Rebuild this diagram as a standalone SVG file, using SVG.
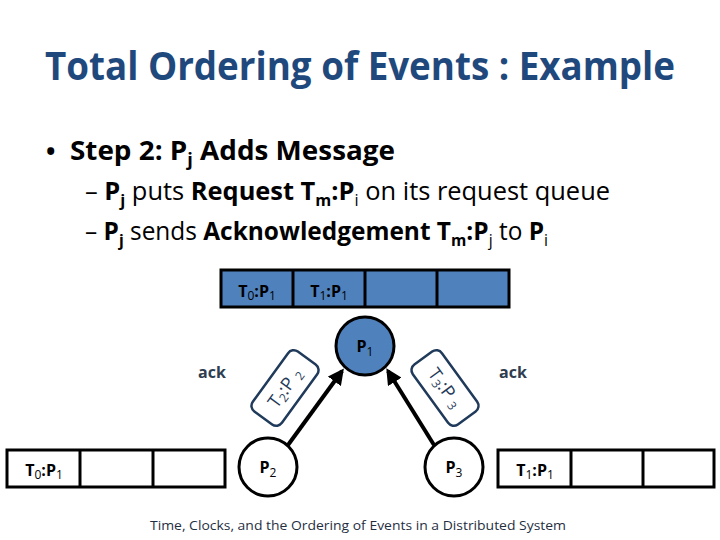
<svg xmlns="http://www.w3.org/2000/svg" width="720" height="540" viewBox="0 0 720 540">
<defs>
<style>
.t{font-family:"Open Sans","Liberation Sans",sans-serif}
.title{font-size:40px;font-weight:bold;fill:#1F497D}
.b{font-size:25px;fill:#000}
.bold{font-weight:bold}
.lbl{font-size:16px;font-weight:bold;fill:#000}
.sub{font-size:12px;font-weight:normal}
.q{stroke:#000;stroke-width:3}
.blue{fill:#4F81BD}
.msg{fill:none;stroke:#1F3A5A;stroke-width:2.5}
.mt{font-size:18px;fill:#1F3A5A}
.ack{font-size:16px;font-weight:bold;fill:#2E3D4F}
.foot{font-size:13px;fill:#1F2F3F}
</style>
<marker id="ah" viewBox="0 0 10 10" refX="8" refY="5" markerWidth="4" markerHeight="4" orient="auto" markerUnits="strokeWidth">
<path d="M0,0 L10,5 L0,10 z" fill="#000"/>
</marker>
</defs>
<rect width="720" height="540" fill="#fff"/>

<g id="title"><text class="t title" x="45" y="80" textLength="630" lengthAdjust="spacingAndGlyphs">Total Ordering of Events : Example</text></g>

<g id="bullets" class="t b">
<text x="46" y="160" class="bold">•</text>
<text x="70" y="160" class="bold" font-size="26" textLength="325" lengthAdjust="spacingAndGlyphs">Step 2:  P<tspan dy="6" font-size="17">j</tspan><tspan dy="-6"> Adds Message</tspan></text>
<text x="85" y="200" textLength="525" lengthAdjust="spacingAndGlyphs">– <tspan class="bold">P</tspan><tspan class="bold" dy="6" font-size="16">j</tspan><tspan dy="-6"> puts </tspan><tspan class="bold">Request T</tspan><tspan class="bold" dy="6" font-size="16">m</tspan><tspan class="bold" dy="-6">:P</tspan><tspan dy="6" font-size="16">i</tspan><tspan dy="-6"> on its request queue</tspan></text>
<text x="85" y="240" textLength="463" lengthAdjust="spacingAndGlyphs">– <tspan class="bold">P</tspan><tspan class="bold" dy="6" font-size="16">j</tspan><tspan dy="-6"> sends </tspan><tspan class="bold">Acknowledgement T</tspan><tspan class="bold" dy="6" font-size="16">m</tspan><tspan class="bold" dy="-6">:P</tspan><tspan dy="6" font-size="16">j</tspan><tspan dy="-6"> to </tspan><tspan class="bold">P</tspan><tspan dy="6" font-size="16">i</tspan></text>
</g>

<g id="queue-p1">
<rect class="q blue" x="221" y="270" width="288" height="37"/>
<line class="q" x1="293" y1="270" x2="293" y2="307"/>
<line class="q" x1="365" y1="270" x2="365" y2="307"/>
<line class="q" x1="437" y1="270" x2="437" y2="307"/>
<text class="t lbl" x="257" y="297" text-anchor="middle">T<tspan class="sub" dy="3">0</tspan><tspan dy="-3">:P</tspan><tspan class="sub" dy="3">1</tspan></text>
<text class="t lbl" x="329" y="297" text-anchor="middle">T<tspan class="sub" dy="3">1</tspan><tspan dy="-3">:P</tspan><tspan class="sub" dy="3">1</tspan></text>
</g>

<g id="queue-p2">
<rect class="q" x="7" y="450" width="218" height="37" fill="#fff"/>
<line class="q" x1="80" y1="450" x2="80" y2="487"/>
<line class="q" x1="153" y1="450" x2="153" y2="487"/>
<text class="t lbl" x="44" y="476" text-anchor="middle">T<tspan class="sub" dy="3">0</tspan><tspan dy="-3">:P</tspan><tspan class="sub" dy="3">1</tspan></text>
</g>

<g id="queue-p3">
<rect class="q" x="498" y="450" width="216" height="37" fill="#fff"/>
<line class="q" x1="571" y1="450" x2="571" y2="487"/>
<line class="q" x1="643" y1="450" x2="643" y2="487"/>
<text class="t lbl" x="535" y="476" text-anchor="middle">T<tspan class="sub" dy="3">1</tspan><tspan dy="-3">:P</tspan><tspan class="sub" dy="3">1</tspan></text>
</g>

<g id="connectors">
<line x1="288" y1="445" x2="342" y2="371" stroke="#000" stroke-width="4" marker-end="url(#ah)"/>
<line x1="434" y1="445" x2="388" y2="371" stroke="#000" stroke-width="4" marker-end="url(#ah)"/>
</g>

<g id="p1">
<circle cx="365" cy="346" r="29" class="blue" stroke="#000" stroke-width="3"/>
<text class="t lbl" x="365" y="352" text-anchor="middle">P<tspan class="sub" dy="4">1</tspan></text>
</g>
<g id="p2">
<circle cx="268" cy="467" r="29" fill="#fff" stroke="#000" stroke-width="3"/>
<text class="t lbl" x="268" y="473" text-anchor="middle">P<tspan class="sub" dy="4">2</tspan></text>
</g>
<g id="p3">
<circle cx="454" cy="467" r="29" fill="#fff" stroke="#000" stroke-width="3"/>
<text class="t lbl" x="454" y="473" text-anchor="middle">P<tspan class="sub" dy="4">3</tspan></text>
</g>

<g id="msg-t2p2" transform="translate(285,388) rotate(-54)">
<rect class="msg" x="-37" y="-18" width="74" height="36" rx="7"/>
<text class="t mt" x="0" y="6" text-anchor="middle">T<tspan font-size="12" dy="3">2</tspan><tspan dy="-3">:P </tspan><tspan font-size="12" dy="3">2</tspan></text>
</g>
<g id="msg-t3p3" transform="translate(445,388) rotate(54)">
<rect class="msg" x="-37" y="-18" width="74" height="36" rx="7"/>
<text class="t mt" x="0" y="6" text-anchor="middle">T<tspan font-size="12" dy="3">3</tspan><tspan dy="-3">:P </tspan><tspan font-size="12" dy="3">3</tspan></text>
</g>

<g id="acks">
<text class="t ack" x="212" y="378" text-anchor="middle">ack</text>
<text class="t ack" x="513" y="378" text-anchor="middle">ack</text>
</g>

<g id="footer"><text class="t foot" x="150" y="530" textLength="416" lengthAdjust="spacingAndGlyphs">Time, Clocks, and the Ordering of Events in a Distributed System</text></g>
</svg>
